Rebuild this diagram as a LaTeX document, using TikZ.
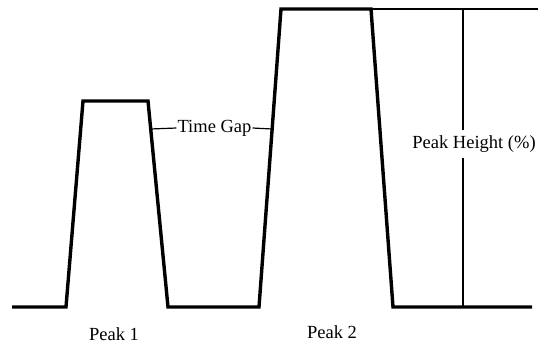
\documentclass[tikz,border=0pt]{standalone}
\usepackage{fontspec}
\setmainfont{Liberation Serif}
\begin{document}
\begin{tikzpicture}[x=1pt,y=-1pt,
  signal/.style={line width=3.4pt,line join=miter},
  thin/.style={line width=1.2pt},
  lbl/.style={font=\fontsize{18.5}{20}\selectfont,inner sep=1pt}]
\useasboundingbox (0,0) rectangle (538,343);
% signal trace points
\coordinate (s0) at (12,307);
\coordinate (a1) at (66,307);
\coordinate (b1) at (83,101);
\coordinate (c1) at (148,101);
\coordinate (d1) at (168,307);
\coordinate (a2) at (259,307);
\coordinate (b2) at (281,9);
\coordinate (c2) at (371,9);
\coordinate (d2) at (393,307);
\coordinate (e2) at (532,307);
\draw[signal] (s0) -- (a1) -- (b1) -- (c1) -- (d1) -- (a2) -- (b2) -- (c2) -- (d2) -- (e2);
% time gap
\coordinate (tg1) at (150.5,129);
\coordinate (tg2) at (272.2,129);
\node[lbl,anchor=center] (tg) at (214.5,128) {Time Gap};
\draw[thin] (tg1) -- (tg.west);
\draw[thin] (tg.east) -- (tg2);
% peak height
\coordinate (ht) at (463,9);
\coordinate (hb) at (463,307);
\coordinate (hr) at (538,9);
\draw[thin] (c2) -- (hr);
\node[lbl,fill=white,inner xsep=0pt,inner ysep=5pt] (ph) at (474,144) {Peak Height (\%)};
\draw[thin] (ht) -- (ht |- ph.north);
\draw[thin] (hb |- ph.south) -- (hb);
% labels
\node[lbl] (p1) at (114,334) {Peak 1};
\node[lbl] (p2) at (332,332) {Peak 2};
\end{tikzpicture}
\end{document}
